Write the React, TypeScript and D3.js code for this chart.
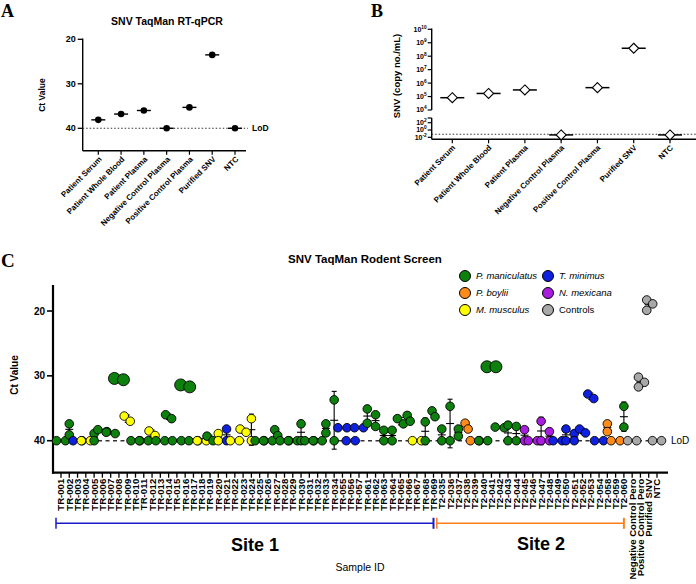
import React from "react";
import * as d3 from "d3";

const FONT = "Arial, 'Liberation Sans', Helvetica, sans-serif";
const SERIF = "'Times New Roman', 'Liberation Serif', serif";

// ---------- Panel A / B data ----------
const sampleTypes = [
  "Patient Serum",
  "Patient Whole Blood",
  "Patient Plasma",
  "Negative Control Plasma",
  "Positive Control Plasma",
  "Purified SNV",
  "NTC",
];
const panelACt = [38.1, 36.8, 36.0, 40, 35.3, 23.5, 40];
const panelATicks = [20, 30, 40];
const panelALoD = 40;

const panelBCopies = [8.2e4, 1.7e5, 3.1e5, 0.045, 4.6e5, 3.9e8, 0.045];
const panelBUpperExp = [4, 5, 6, 7, 8, 9, 10];
const panelBLowerExp = [-2, 0, 2];
const panelBLoD = 0.066;

// ---------- Panel C data ----------
const sampleIds = [
  "TR-001", "TR-002", "TR-003", "TR-004", "TR-005", "TR-006", "TR-007", "TR-008", "TR-009", "TR-010",
  "TR-011", "TR-012", "TR-013", "TR-014", "TR-015", "TR-016", "TR-017", "TR-018", "TR-019", "TR-020",
  "TR-021", "TR-022", "TR-023", "TR-024", "TR-025", "TR-026", "TR-027", "TR-028", "TR-029", "TR-030",
  "TR-031", "TR-032", "TR-033", "TR-034", "TR-055", "TR-056", "TR-057", "TR-061", "TR-062", "TR-063",
  "TR-064", "TR-065", "TR-066", "TR-067", "TR-068", "TR-069",
  "T2-035", "T2-036", "T2-037", "T2-038", "T2-039", "T2-040", "T2-041", "T2-042", "T2-043", "T2-044",
  "T2-045", "T2-046", "T2-047", "T2-048", "T2-049", "T2-050", "T2-051", "T2-052", "T2-053", "T2-054",
  "T2-058", "T2-059", "T2-060",
  "Negative Control Pero", "Positive Control Pero", "Purified SNV", "NTC",
];
const sampleSpecies = [
  "Pm", "Pm", "Tm", "Mm", "Pm", "Pm", "Pm", "Pm", "Mm", "Pm",
  "Pm", "Mm", "Pm", "Pm", "Pm", "Pm", "Pm", "Mm", "Pm", "Mm",
  "Tm", "Mm", "Mm", "Mm", "Pm", "Pm", "Pm", "Pm", "Pm", "Pm",
  "Pm", "Pm", "Pm", "Pm", "Tm", "Tm", "Tm", "Pm", "Pm", "Pm",
  "Pm", "Pm", "Pm", "Mm", "Pm", "Pm",
  "Pm", "Pm", "Pm", "Pb", "Pb", "Pm", "Pm", "Pm", "Pm", "Pm",
  "Nm", "Nm", "Nm", "Nm", "Tm", "Tm", "Tm", "Tm", "Tm", "Tm",
  "Pb", "Pb", "Pm",
  "Ctrl", "Ctrl", "Ctrl", "Ctrl",
];
const sampleCt: number[][] = [
  [40, 40], [37.4, 39.1], [40, 40], [40, 40], [38.9, 40], [38.3, 38.6], [38.7, 38.9], [30.4, 30.6], [36.2, 37.0], [40, 40],
  [40, 40], [38.5, 39.2], [40, 40], [36.0, 36.6], [40, 40], [31.4, 31.7], [40, 40], [40, 40], [39.3, 40], [38.9, 40],
  [38.2, 40], [40, 40], [38.2, 38.7], [36.6, 40], [40, 40], [40, 40], [38.3, 39.2], [40, 40], [40, 40], [37.4, 40],
  [40, 40], [40, 40], [37.4, 38.8], [33.7, 40], [38.0, 38.0], [40, 40], [38.0, 38.0], [35.1, 37.3], [36.0, 37.8], [38.4, 40],
  [38.4, 40], [36.6, 37.4], [36.1, 37.0], [40, 40], [37.1, 40], [35.4, 36.3],
  [38.2, 40], [34.7, 40], [38.2, 39.3], [37.3, 38.2], [40, 40], [40, 40], [28.6, 28.6], [37.9, 38.0], [37.6, 40], [37.8, 40],
  [38.3, 40], [40, 40], [37.0, 40], [38.6, 40], [40, 40], [38.2, 40], [38.9, 40], [38.2, 38.8], [32.8, 33.5], [40, 40],
  [37.4, 38.6], [40, 40], [34.7, 37.9],
  [40, 40], [30.2, 31.0, 31.7], [18.3, 18.9, 19.9], [40, 40],
];
const panelCTicks = [20, 30, 40];
const panelCLoD = 40;

const speciesKeys = ["Pm", "Tm", "Pb", "Nm", "Mm", "Ctrl"];
const speciesLabels = ["P. maniculatus", "T. minimus", "P. boylii", "N. mexicana", "M. musculus", "Controls"];
const speciesColors = ["#0e800e", "#1020e0", "#ff8c1a", "#a81de0", "#ffff00", "#a8a8a8"];

const sites = [
  { name: "Site 1", first: "TR-001", last: "TR-069", color: "#1a1acc" },
  { name: "Site 2", first: "T2-035", last: "T2-060", color: "#ff7f1a" },
];

// spread replicate points horizontally so they don't overlap completely
function spread(ys: number[], D: number): number[] {
  const placed: { x: number; y: number }[] = [];
  const cands = [0, 3, -3, 6, -6, 9, -9];
  const offs = ys.map((y) => {
    for (const c of cands) {
      if (placed.every((p) => Math.hypot(p.x - c, p.y - y) >= D)) {
        placed.push({ x: c, y });
        return c;
      }
    }
    placed.push({ x: 0, y });
    return 0;
  });
  const m = d3.mean(offs) || 0;
  return offs.map((o) => o - m);
}

function PanelA() {
  const x = d3.scalePoint<string>().domain(sampleTypes).range([98.3, 235]);
  const y = d3.scaleLinear().domain([20, 40]).range([39.3, 128.3]);
  const axisX = 82.7;
  const axisY = y(45.05);
  return (
    <g>
      <text x={1} y={17} fontFamily={SERIF} fontWeight="bold" fontSize={18}>A</text>
      <text x={167} y={25} textAnchor="middle" fontFamily={FONT} fontWeight="bold" fontSize={10.5}>
        SNV TaqMan RT-qPCR
      </text>
      <text transform={`translate(41.7,95) rotate(-90)`} dy="0.35em" textAnchor="middle" fontFamily={FONT} fontWeight="bold" fontSize={8.5}>
        Ct Value
      </text>
      <line x1={axisX} x2={axisX} y1={y(20) - 0.7} y2={axisY} stroke="#000" strokeWidth={1.4} />
      <line x1={axisX} x2={246} y1={axisY} y2={axisY} stroke="#000" strokeWidth={1.4} />
      {panelATicks.map((t) => (
        <g key={t}>
          <line x1={axisX - 5} x2={axisX} y1={y(t)} y2={y(t)} stroke="#000" strokeWidth={1.3} />
          <text x={axisX - 7} y={y(t)} dy="0.35em" textAnchor="end" fontFamily={FONT} fontWeight="bold" fontSize={9}>
            {t}
          </text>
        </g>
      ))}
      {sampleTypes.map((c) => (
        <g key={c}>
          <line x1={x(c)} x2={x(c)} y1={axisY} y2={axisY + 4} stroke="#000" strokeWidth={1.2} />
          <text transform={`translate(${x(c)! + 2},${axisY + 7}) rotate(-45)`} textAnchor="end" dy="0.35em" fontFamily={FONT} fontWeight="bold" fontSize={8}>
            {c}
          </text>
        </g>
      ))}
      <line x1={axisX} x2={248} y1={y(panelALoD)} y2={y(panelALoD)} stroke="#333" strokeWidth={1.1} strokeDasharray="1.5,2" />
      <text x={252} y={y(panelALoD)} dy="0.35em" fontFamily={FONT} fontWeight="bold" fontSize={8.5}>LoD</text>
      {sampleTypes.map((c, i) => (
        <g key={c}>
          <line x1={x(c)! - 7} x2={x(c)! + 7} y1={y(panelACt[i])} y2={y(panelACt[i])} stroke="#000" strokeWidth={1.4} />
          <circle cx={x(c)} cy={y(panelACt[i])} r={3.3} fill="#000" />
        </g>
      ))}
    </g>
  );
}

function PanelB() {
  const x = d3.scalePoint<string>().domain(sampleTypes).range([452.3, 670]);
  const yUp = d3.scaleLog().domain([1e4, 1e10]).range([110, 29.3]);
  const yLo = d3.scaleLog().domain([1e-2, 1e2]).range([137.3, 122.7]);
  const yv = (v: number) => (v >= 1e3 ? yUp(v) : yLo(v));
  const axisX = 431.7;
  const axisY = 139.3;
  const loTop = 118;
  const tickLabel = (e: number, yy: number) => (
    <text key={e} x={axisX - 5} y={yy} dy="0.35em" textAnchor="end" fontFamily={FONT} fontWeight="bold" fontSize={7}>
      10<tspan fontSize={4.8} dy="-3">{e}</tspan>
    </text>
  );
  return (
    <g>
      <text x={371} y={17} fontFamily={SERIF} fontWeight="bold" fontSize={18}>B</text>
      <text transform={`translate(396.5,76) rotate(-90)`} dy="0.35em" textAnchor="middle" fontFamily={FONT} fontWeight="bold" fontSize={9.5}>
        SNV (copy no./mL)
      </text>
      <line x1={axisX} x2={axisX} y1={yUp(1e10) - 0.7} y2={yUp(1e4)} stroke="#000" strokeWidth={1.4} />
      <line x1={axisX} x2={axisX} y1={loTop} y2={axisY} stroke="#000" strokeWidth={1.4} />
      <line x1={axisX - 4} x2={axisX} y1={loTop} y2={loTop} stroke="#000" strokeWidth={1.2} />
      <line x1={axisX} x2={696} y1={axisY} y2={axisY} stroke="#000" strokeWidth={1.4} />
      {panelBUpperExp.map((e) => (
        <g key={"u" + e}>
          <line x1={axisX - 4} x2={axisX} y1={yUp(Math.pow(10, e))} y2={yUp(Math.pow(10, e))} stroke="#000" strokeWidth={1.2} />
          {tickLabel(e, yUp(Math.pow(10, e)))}
        </g>
      ))}
      {panelBLowerExp.map((e) => (
        <g key={"l" + e}>
          <line x1={axisX - 4} x2={axisX} y1={yLo(Math.pow(10, e))} y2={yLo(Math.pow(10, e))} stroke="#000" strokeWidth={1.2} />
          {tickLabel(e, yLo(Math.pow(10, e)))}
        </g>
      ))}
      {sampleTypes.map((c) => (
        <g key={c}>
          <line x1={x(c)} x2={x(c)} y1={axisY} y2={axisY + 4} stroke="#000" strokeWidth={1.2} />
          <text transform={`translate(${x(c)! + 1.5},${axisY + 7}) rotate(-45)`} textAnchor="end" dy="0.35em" fontFamily={FONT} fontWeight="bold" fontSize={8}>
            {c}
          </text>
        </g>
      ))}
      <line x1={axisX} x2={696} y1={yLo(panelBLoD)} y2={yLo(panelBLoD)} stroke="#333" strokeWidth={1.1} strokeDasharray="1.5,2" />
      {sampleTypes.map((c, i) => {
        const cx = x(c)!;
        const cy = yv(panelBCopies[i]);
        const s = 5;
        return (
          <g key={c}>
            <line x1={cx - 12} x2={cx + 12} y1={cy} y2={cy} stroke="#000" strokeWidth={1.5} />
            <path d={`M${cx},${cy - s}L${cx + s},${cy}L${cx},${cy + s}L${cx - s},${cy}Z`} fill="#fff" stroke="#000" strokeWidth={1.1} />
          </g>
        );
      })}
    </g>
  );
}

function PanelC() {
  const x = d3.scalePoint<string>().domain(sampleIds).range([61, 657]);
  const y = d3.scaleLinear().domain([20, 40]).range([311, 440.7]);
  const color = d3.scaleOrdinal<string, string>().domain(speciesKeys).range(speciesColors);
  const axisX = 53;
  const axisY = 472.7;
  const axisTop = 285;
  const legendCols = [465, 548];
  const legendRows = [276, 293, 310];
  return (
    <g>
      <text x={1} y={267} fontFamily={SERIF} fontWeight="bold" fontSize={19}>C</text>
      <text x={365} y={263} textAnchor="middle" fontFamily={FONT} fontWeight="bold" fontSize={11.5}>
        SNV TaqMan Rodent Screen
      </text>
      <text transform={`translate(14,375) rotate(-90)`} dy="0.35em" textAnchor="middle" fontFamily={FONT} fontWeight="bold" fontSize={10}>
        Ct Value
      </text>
      {/* legend */}
      {speciesKeys.map((k, i) => {
        const cx = legendCols[i % 2];
        const cy = legendRows[Math.floor(i / 2)];
        return (
          <g key={k}>
            <circle cx={cx} cy={cy} r={5.5} fill={color(k)} stroke="#000" strokeWidth={1} />
            <text x={cx + 11} y={cy} dy="0.35em" fontFamily={FONT} fontSize={9.5} fontStyle={k === "Ctrl" ? "normal" : "italic"}>
              {speciesLabels[i]}
            </text>
          </g>
        );
      })}
      {/* axes */}
      <line x1={axisX} x2={axisX} y1={axisTop} y2={axisY + 1} stroke="#000" strokeWidth={2.2} />
      <line x1={axisX - 1} x2={668} y1={axisY} y2={axisY} stroke="#000" strokeWidth={2.2} />
      {panelCTicks.map((t) => (
        <g key={t}>
          <line x1={axisX - 6} x2={axisX} y1={y(t)} y2={y(t)} stroke="#000" strokeWidth={1.6} />
          <text x={axisX - 8} y={y(t)} dy="0.35em" textAnchor="end" fontFamily={FONT} fontWeight="bold" fontSize={10}>
            {t}
          </text>
        </g>
      ))}
      {sampleIds.map((id) => (
        <g key={id}>
          <line x1={x(id)} x2={x(id)} y1={axisY} y2={axisY + 5} stroke="#000" strokeWidth={1.3} />
          <text transform={`translate(${x(id)},${axisY + 6}) rotate(-90)`} textAnchor="end" dy="0.36em" fontFamily={FONT} fontWeight="bold" fontSize={9.6}>
            {id}
          </text>
        </g>
      ))}
      {/* site brackets */}
      {sites.map((s) => {
        const x1 = x(s.first)! - 5;
        const x2 = x(s.last)!;
        const yy = 523.3;
        return (
          <g key={s.name}>
            <line x1={x1} x2={x2} y1={yy} y2={yy} stroke={s.color} strokeWidth={1.5} />
            <line x1={x1} x2={x1} y1={yy - 5.5} y2={yy + 5.5} stroke={s.color} strokeWidth={1.5} />
            <line x1={x2} x2={x2} y1={yy - 5.5} y2={yy + 5.5} stroke={s.color} strokeWidth={2} />
          </g>
        );
      })}
      <text x={255} y={551} textAnchor="middle" fontFamily={FONT} fontWeight="bold" fontSize={18}>Site 1</text>
      <text x={541} y={550} textAnchor="middle" fontFamily={FONT} fontWeight="bold" fontSize={18}>Site 2</text>
      <text x={360} y={571} textAnchor="middle" fontFamily={FONT} fontSize={10.5}>Sample ID</text>
      {/* LoD */}
      <line x1={axisX} x2={664} y1={y(panelCLoD)} y2={y(panelCLoD)} stroke="#333" strokeWidth={1.4} strokeDasharray="4,3.5" />
      <text x={671} y={y(panelCLoD)} dy="0.35em" fontFamily={FONT} fontSize={10}>LoD</text>
      {/* error bars */}
      {sampleIds.map((id, i) => {
        const vals = sampleCt[i];
        const sd = d3.deviation(vals) || 0;
        if (sd < 0.05) return null;
        const m = d3.mean(vals)!;
        const cx = x(id)!;
        return (
          <g key={id} stroke="#000" strokeWidth={1.1}>
            <line x1={cx} x2={cx} y1={y(m - sd)} y2={y(m + sd)} />
            <line x1={cx - 2.5} x2={cx + 2.5} y1={y(m - sd)} y2={y(m - sd)} />
            <line x1={cx - 2.5} x2={cx + 2.5} y1={y(m + sd)} y2={y(m + sd)} />
            <line x1={cx - 4} x2={cx + 4} y1={y(m)} y2={y(m)} />
          </g>
        );
      })}
      {/* points */}
      {sampleIds.map((id, i) => {
        const vals = sampleCt[i];
        const ys = vals.map((v) => y(v));
        const offs = spread(ys, 6.5);
        const sp = sampleSpecies[i];
        return (
          <g key={id}>
            {vals.map((v, j) => (
              <circle
                key={j}
                cx={x(id)! + offs[j]}
                cy={ys[j]}
                r={sp !== "Ctrl" && v < 32 ? 6 : 4.3}
                fill={color(sp)}
                stroke="#000"
                strokeWidth={0.9}
              />
            ))}
          </g>
        );
      })}
    </g>
  );
}

export default function App() {
  return (
    <div style={{ position: "absolute", left: 0, top: 0 }}>
      <svg width={696} height={584} viewBox="0 0 696 584" style={{ display: "block", background: "#fff" }}>
        <rect width={696} height={584} fill="#fff" />
        <PanelA />
        <PanelB />
        <PanelC />
      </svg>
    </div>
  );
}
